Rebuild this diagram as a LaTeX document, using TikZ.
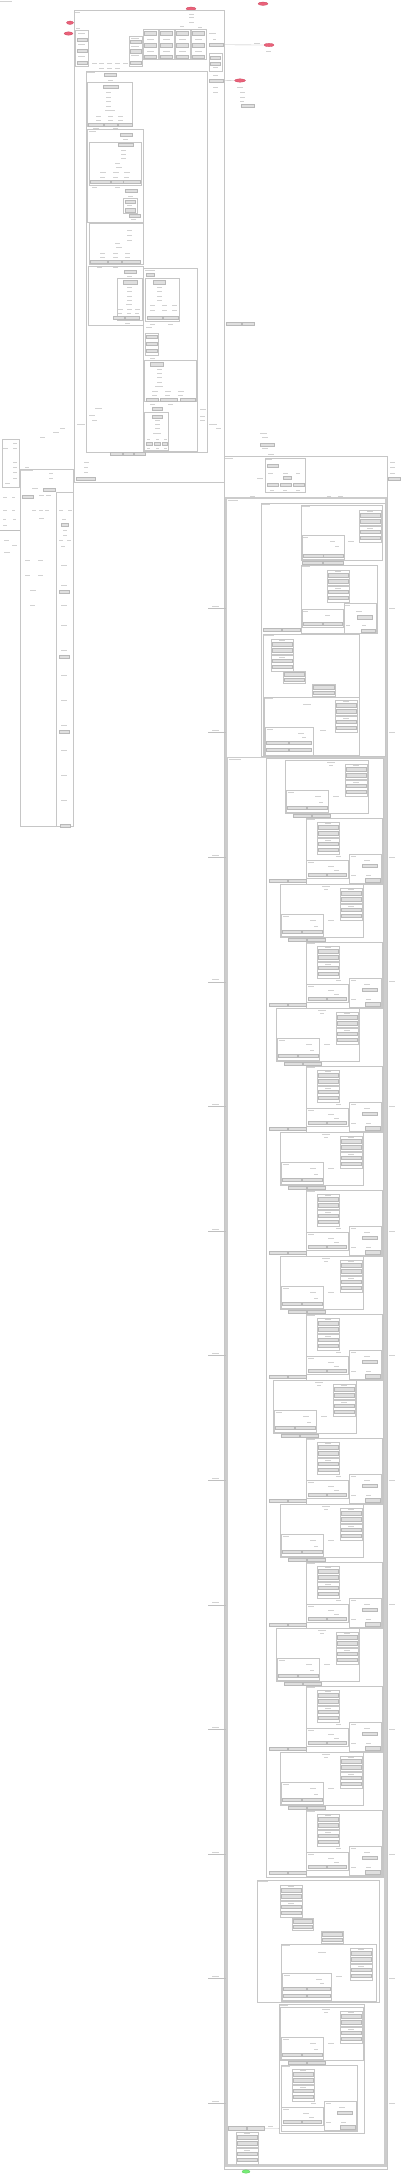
\documentclass[tikz,border=0pt]{standalone}
\usetikzlibrary{shapes.geometric}
\definecolor{redc}{RGB}{234,98,122}
\definecolor{redd}{RGB}{205,70,95}
\definecolor{grnc}{RGB}{120,236,120}
\definecolor{grnd}{RGB}{80,200,80}
\newcounter{gncnt}
\newcommand{\gn}[3]{\stepcounter{gncnt}\node[gnode,minimum width={(#3)*1pt},anchor=north west] (g\arabic{gncnt}) at (#1,#2) {};}
\newcommand{\gnn}[4]{\node[gnode,minimum width={(#4)*1pt},anchor=north west] (#1) at (#2,#3) {};}
\newcommand{\tx}[3]{\draw[txt] (#1,#2) -- ++(#3,0);}
\newcommand{\bx}[4]{\draw[box] (#1,#2) rectangle (#3,#4);}
\newcommand{\fourbox}[2]{%
 \bx{#1}{#2}{#1+22}{#2+15.5}%
 \bx{#1}{#2+16.5}{#1+22}{#2+32}%
 \tx{#1+8}{#2+1.5}{6}%
 \gn{#1+1}{#2+3.5}{20}\gn{#1+1}{#2+9.5}{20}%
 \tx{#1+8}{#2+18}{6}%
 \gn{#1+1}{#2+20}{20}\gn{#1+1}{#2+26}{20}}
\newcommand{\twobox}[3]{%
 \bx{#1}{#2}{#1+#3}{#2+12}%
 \gn{#1+1}{#2+1.5}{#3-2}\gn{#1+1}{#2+7}{#3-2}}
\newcommand{\Rblock}[2]{%
 \bx{#1}{#2}{#1+76}{#2+66}%
 \tx{#1+1}{#2+1.5}{8}%
 \fourbox{#1+11}{#2+4}%
 \bx{#1}{#2+42}{#1+42}{#2+60}%
 \tx{#1+2}{#2+44}{6}\tx{#1+22}{#2+48}{6}\tx{#1+28}{#2+52}{5}%
 \gn{#1+2}{#2+55}{18}\gn{#1+21}{#2+55}{19}%
 \bx{#1+43}{#2+36}{#1+75}{#2+65}%
 \tx{#1+45}{#2+38}{5}\tx{#1+58}{#2+42}{6}%
 \gn{#1+56}{#2+46}{15}%
 \tx{#1+45}{#2+57}{5}\tx{#1+60}{#2+57}{5}%
 \gn{#1+59}{#2+60.5}{15}%
 \tx{#1+30}{#2+38}{5}}
\newcommand{\Lblock}[2]{%
 \bx{#1}{#2}{#1+83}{#2+53}%
 \tx{#1+42}{#2+2}{8}\tx{#1+44}{#2+5}{4}%
 \fourbox{#1+60}{#2+4}%
 \bx{#1+1}{#2+30}{#1+43}{#2+52}%
 \tx{#1+3}{#2+32}{6}\tx{#1+30}{#2+36}{6}\tx{#1+34}{#2+42}{4}%
 \gn{#1+2}{#2+46}{19}\gn{#1+22}{#2+46}{20}%
 \tx{#1+48}{#2+36}{6}%
 \gn{#1+8}{#2+54}{18}\gn{#1+27}{#2+54}{18}}
\begin{document}
\begin{tikzpicture}[x=1pt,y=-1pt,
  box/.style={draw=gray!45,line width=0.4pt},
  thickbox/.style={draw=gray!40,line width=1.4pt},
  txt/.style={draw=gray!35,line width=0.8pt},
  edge/.style={draw=gray!50,line width=0.35pt},
  gnode/.style={rectangle,draw=gray!55,fill=gray!25,line width=0.3pt,inner sep=0pt,outer sep=0pt,minimum height=3.5pt},
  rednode/.style={ellipse,fill=redc,draw=redd,line width=0.3pt,inner sep=0pt,minimum height=3.4pt},
  grnnode/.style={ellipse,fill=grnc,draw=grnd,line width=0.3pt,inner sep=0pt,minimum height=3.4pt}]
\useasboundingbox (0,0) rectangle (400,2174);
\fill[white] (0,0) rectangle (400,2174);
% ---------- top-left text
\tx{0}{1.5}{12}
% ---------- red start nodes
\node[rednode,minimum width=10pt] (R1) at (191,8.7) {};
\node[rednode,minimum width=10pt] (R2) at (263,3.7) {};
\node[rednode,minimum width=7pt] (R3) at (70,22.7) {};
\node[rednode,minimum width=9pt] (R4) at (68.5,33.5) {};
\node[rednode,minimum width=10pt] (R5) at (269,45) {};
\node[rednode,minimum width=11pt] (R6) at (240,80.5) {};
\tx{189}{14}{5}\tx{189}{17.7}{5}\tx{189}{22.7}{5}
\tx{266}{51}{5}
% ---------- cluster A
\bx{74}{10}{224}{482}
\tx{75}{12}{5}
% A1
\bx{75}{30}{88}{66}\tx{76}{28}{4}
\tx{78}{33.5}{7}\gn{77}{38}{10}\tx{78}{44}{7}\gn{77}{49}{10}\tx{78}{56}{7}\gn{77}{61}{10}
% A2
\bx{129}{36}{142}{66}
\tx{131}{38}{8}\gn{130}{40}{11}\tx{131}{46}{8}\gn{130}{49.5}{11}\tx{131}{55}{8}\gn{130}{61}{11}
% A3..A6
\foreach \ax in {143,159,175,191}{
 \bx{\ax}{29}{\ax+15}{59}
 \gn{\ax+1.5}{31.5}{12}\tx{\ax+4}{39}{7}\gn{\ax+1.5}{43.5}{12}\tx{\ax+4}{51}{7}\gn{\ax+1.5}{55}{12}}
\tx{180}{26}{4}\tx{198}{27}{4}
% edge labels between A1 and A2
\foreach \lx in {92,99,107,115,123}{\tx{\lx}{63}{5}}
\foreach \lx in {99,107,115}{\tx{\lx}{68}{5}}
% right column inside A
\tx{209}{33}{7}\tx{213}{39}{3}
\gnn{sA}{209}{43}{14}
\draw[edge] (sA.east) -- (R5.west);
\tx{254}{43.5}{6}
\bx{209}{53}{222}{71}
\gn{210.5}{56}{10}\gn{210.5}{62}{10}\tx{213}{67.5}{5}
\tx{213}{75}{5}
\gnn{sB}{209}{79}{14}
\draw[edge] (sB.east) -- (R6.west);
\tx{213}{87}{5}\tx{213}{92}{5}
\tx{237}{87}{6}\tx{240}{92}{5}\tx{240}{97}{5}\tx{240}{101}{4}
\gn{241}{104}{13}
% ---------- cluster B
\bx{86}{71}{207}{452}
\tx{87}{72.5}{8}
\gn{104}{73}{12}\tx{108}{80}{5}
% B1
\bx{87}{82}{132}{126}
\gn{103}{85}{15}
\tx{106}{92}{5}\tx{106}{97}{5}\tx{106}{101}{5}\tx{106}{106}{5}\tx{105}{110}{10}
\foreach \lx in {96,108,118}{\tx{\lx}{116}{5}\tx{\lx}{120}{5}}
\gn{88}{123}{15}\gn{104}{123}{13}\gn{118}{123}{14}
\tx{93}{128}{6}\tx{113}{128}{5}
% B2
\bx{87}{129}{143}{222}
\tx{89}{131.5}{7}\gn{120}{133}{12}\tx{123}{139}{5}
\bx{89}{142}{141}{185}
\gn{118}{143}{15}
\tx{121}{150}{5}\tx{121}{154}{5}\tx{121}{158}{5}\tx{115}{163}{5}\tx{116}{167}{6}
\foreach \lx in {100,113,124}{\tx{\lx}{172}{6}\tx{\lx}{177}{5}}
\gn{90}{180}{20}\gn{111}{180}{12}\gn{123}{180}{17}
\tx{92}{187}{5}\tx{115}{187}{5}
\gn{125}{189}{12}\tx{128}{196}{5}
\bx{123}{198}{137}{213}
\gn{125}{200}{10}\tx{127}{205.5}{5}\gn{125}{208.5}{10}
\gn{129}{214}{11}\tx{131}{219}{5}
% B3
\bx{89}{223}{143}{264}
\tx{127}{230}{5}\tx{127}{235}{5}\tx{127}{240}{5}\tx{115}{243}{5}\tx{116}{247}{6}
\foreach \lx in {100,113,125}{\tx{\lx}{253}{5}\tx{\lx}{257}{5}}
\gn{90}{260}{17}\gn{108}{260}{13}\gn{122}{260}{18}
\tx{97}{267}{5}\tx{113}{267}{5}
% B4
\bx{88}{266}{143}{325}
\gn{124}{270}{12}\tx{127}{276.5}{5}
\bx{117}{278}{142}{320}
\gn{123}{280.5}{14}
\tx{127}{287}{5}\tx{127}{291}{5}\tx{127}{296}{5}\tx{127}{300}{5}\tx{126}{304}{6}
\foreach \lx in {118,127,135}{\tx{\lx}{309}{5}\tx{\lx}{313}{4}}
\gn{113}{316}{11}\gn{125}{316}{14}
\tx{125}{323}{5}
% B5 and contents
\bx{143}{268}{197}{451}
\tx{145}{270}{10}\gn{146}{273}{8}
\bx{145}{278}{179}{321}
\gn{153}{280.5}{12}
\tx{157}{287}{5}\tx{157}{291}{5}\tx{157}{296}{5}\tx{157}{300}{5}
\foreach \lx in {150,162,172}{\tx{\lx}{305}{5}\tx{\lx}{310}{5}}
\gn{147}{316}{15}\gn{163}{316}{15}
\tx{150}{324}{5}\tx{168}{324}{5}
\tx{146}{327}{6}
\bx{145}{333}{158}{355}
\gn{146}{335}{11}\gn{146}{342}{11}\gn{146}{349}{11}
\tx{150}{358}{5}
\bx{144}{360}{196}{401}
\gn{150}{362.5}{13}
\tx{157}{369}{5}\tx{157}{373}{5}\tx{157}{377}{5}\tx{157}{382}{5}\tx{155}{386}{8}
\foreach \lx in {152,165,178}{\tx{\lx}{391}{6}\tx{\lx}{395}{5}}
\gn{146}{398}{12}\gn{160}{398}{17}\gn{180}{398}{15}
\tx{150}{404}{5}\tx{168}{404}{5}
\gn{152}{407}{10}
\bx{144}{412}{168}{450}
\gn{152}{415}{10}
\tx{155}{420}{5}\tx{155}{424}{5}\tx{155}{428}{5}\tx{153}{433}{8}
\foreach \lx in {147,156,164}{\tx{\lx}{439}{3}}
\gn{146}{442}{6}\gn{154}{442}{6}\gn{162}{442}{5}
\foreach \lx in {147,156,164}{\tx{\lx}{448}{3}}
% edge labels right of B
\tx{200}{409}{6}\tx{200}{416}{5}\tx{200}{420}{5}\tx{209}{424}{8}\tx{216}{428}{5}
% labels left inside B
\tx{95}{408}{7}\tx{89}{415}{6}\tx{92}{420}{5}
% grey nodes on B bottom
\gn{110}{452}{12}\gn{123}{452}{10}\gn{134}{452}{11}
% A bottom-left
\tx{84}{462}{5}\tx{84}{467}{4}\tx{84}{472}{4}
\gn{76}{477}{19}
\tx{77}{424}{8}
% right of A
\gn{226}{322}{15}\gn{242}{322}{12}
\tx{260}{433}{7}\tx{262}{437}{6}
\gn{260}{443}{14}
\tx{262}{448}{6}\tx{268}{454}{6}
% ---------- left cluster C
\bx{2}{439}{19}{487}
\tx{13}{443}{4}\tx{3}{448}{5}\tx{13}{448}{4}\tx{13}{462}{4}\tx{13}{467}{4}\tx{13}{472}{4}\tx{13}{478}{4}\tx{5}{483}{5}
\tx{60}{428}{5}\tx{53}{432}{6}\tx{40}{437}{5}
\tx{25}{467}{4}
\bx{20}{469}{73}{826}
\tx{21}{470.5}{12}
\tx{49}{473}{4}\tx{49}{478}{4}
\gn{43}{488}{12}\tx{32}{488}{6}
\gn{22}{495}{11}\tx{39}{495}{5}\tx{46}{495}{5}
\foreach \lx in {32,39,45}{\tx{\lx}{510}{4}}
\tx{39}{518}{5}
\tx{25}{560}{5}\tx{38}{560}{5}\tx{25}{575}{5}\tx{38}{575}{5}\tx{30}{590}{6}\tx{30}{605}{5}
\bx{56}{492}{73}{826}
\tx{59}{510}{4}\tx{68}{510}{4}\tx{62}{519}{4}\gn{61}{523}{7}\tx{63}{530}{4}\tx{63}{535}{4}
\tx{59}{540}{4}\tx{67}{540}{4}\tx{61}{546}{4}
\foreach \cy in {565,585,605,625,650,675,700,725,750,775,800}{\tx{61}{\cy}{6}}
\foreach \cy in {590,655,730}{\gn{59}{\cy}{10}}
\gn{60}{824}{10}
\tx{3}{497}{4}\tx{12}{497}{3}\tx{3}{510}{4}\tx{12}{510}{3}\tx{3}{519}{3}\tx{13}{519}{3}\tx{3}{525}{4}
\coordinate (cl0) at (0,530);
\coordinate (cl1) at (20,530);
\draw[edge] (cl0) -- (cl1);
\tx{4}{540}{5}\tx{12}{545}{5}\tx{4}{552}{6}
% ---------- cluster D
\draw[box,line width=0.7pt] (224,456) rectangle (387,2169);
\tx{225}{458}{8}
\bx{265}{458}{305}{492}
\tx{266}{459.5}{6}
\gn{267}{464}{11}
\tx{268}{473}{5}\tx{283}{473}{5}\tx{296}{473}{4}
\gn{283}{476}{8}
\gn{267}{483}{11}\gn{280}{483}{11}\gn{293}{483}{11}
\tx{270}{490}{4}\tx{283}{490}{4}\tx{296}{490}{4}
\tx{257}{478}{6}
\tx{390}{462}{5}\tx{390}{467}{5}\tx{390}{473}{5}
\gn{388}{477}{12}
\tx{250}{496}{5}\tx{327}{496}{4}\tx{338}{496}{5}
% ---------- cluster E
\draw[thickbox] (226,498) rectangle (386,2166);
\tx{228}{500}{10}
% F
\bx{261}{503}{385}{756}
\tx{262}{504.5}{8}
\bx{301}{505}{382}{560}
\tx{302}{506.5}{8}
\fourbox{359}{510}
\bx{302}{535}{344}{559}
\tx{303}{537}{5}\tx{330}{541}{5}\tx{335}{546}{4}
\gn{303}{554}{20}\gn{323}{554}{20}
\tx{348}{541}{6}
\gn{302}{561}{20}\gn{323}{561}{20}
\bx{301}{565}{377}{633}
\tx{302}{566.5}{8}
\fourbox{327}{570}
\bx{302}{609}{343}{627}
\tx{303}{611}{5}\tx{325}{615}{5}
\gn{303}{622}{19}\gn{323}{622}{19}
\bx{344}{603}{376}{633}
\tx{345}{605}{5}\tx{356}{611}{6}\gn{357}{615.5}{15}\tx{346}{625}{4}\tx{362}{625}{4}\gn{361}{629}{14}
\gn{263}{628}{18}\gn{282}{628}{18}
% M block
\bx{263}{634}{359}{756}
\tx{264}{635.5}{10}
\fourbox{271}{639}
\twobox{283}{671}{22}
\twobox{312}{684}{23}
\bx{264}{697}{359}{755}
\tx{265}{698.5}{8}
\fourbox{335}{700}
\tx{303}{704}{8}
\bx{265}{727}{313}{755}
\tx{267}{729}{6}\tx{298}{733}{6}\tx{302}{737}{4}
\gn{266}{741}{22}\gn{289}{741}{22}\gn{266}{748}{22}\gn{289}{748}{22}
\tx{320}{730}{6}
% G and inner repeated blocks
\draw[box,draw=gray!40,line width=0.8pt] (227.5,757) rectangle (384,2164);
\tx{229}{759}{12}
\bx{266}{758.5}{383}{1877}
\foreach \k/\lx in {0/285,1/280,2/276,3/280,4/280,5/273,6/280,7/276,8/280}{
 \pgfmathsetmacro\ya{760+124*\k}
 \pgfmathsetmacro\yb{818+124*\k}
 \Lblock{\lx}{\ya}
 \Rblock{306}{\yb}
 \gn{269}{\yb+61}{18}\gn{288}{\yb+61}{18}}
% second M block
\bx{257}{1880}{379}{2002}
\tx{258}{1881.5}{10}
\fourbox{280}{1885}
\twobox{292}{1918}{21}
\twobox{321}{1931}{22}
\bx{281}{1944}{376}{2001}
\tx{282}{1945.5}{8}
\fourbox{350}{1948}
\tx{318}{1952}{8}
\bx{282}{1973}{331}{2000}
\tx{284}{1975}{6}\tx{316}{1979}{6}\tx{320}{1983}{4}
\gn{283}{1987}{23}\gn{307}{1987}{23}\gn{283}{1994}{23}\gn{307}{1994}{23}
\tx{336}{1976}{6}
% bottom nested box
\bx{279}{2004}{364}{2133}
\tx{280}{2005.5}{8}
\Lblock{280}{2007}
\Rblock{281}{2065}
% bottom-left pair and final box
\gnn{bp1}{228}{2126.5}{18}
\gnn{bp2}{247}{2126.5}{17}
\coordinate (bpe) at (279,2128.3);
\draw[edge] (bp2.east) -- (bpe);
\tx{268}{2126}{5}
\fourbox{236}{2132}
\node[grnnode,minimum width=8pt] (G1) at (246,2171.5) {};
% ---------- side edge labels of nested clusters
\foreach \k in {0,...,12}{
 \pgfmathsetmacro\yy{608+124.6*\k}
 \coordinate (la\k) at (208,\yy);
 \coordinate (lb\k) at (226,\yy);
 \draw[edge] (la\k) -- (lb\k);
 \tx{212}{\yy-2}{7}
 \tx{389}{\yy}{6}}
\end{tikzpicture}
\end{document}
